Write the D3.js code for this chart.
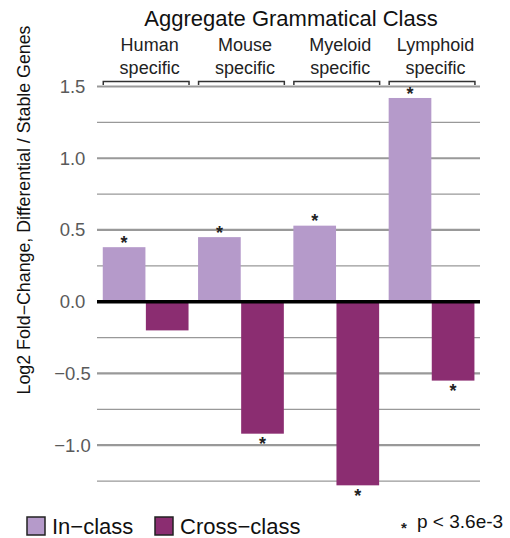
<!DOCTYPE html>
<html>
<head>
<meta charset="utf-8">
<script src="https://cdn.jsdelivr.net/npm/d3@7"></script>
<style>
  html, body { margin: 0; padding: 0; background: #fff; }
  svg { display: block; font-family: "Liberation Sans", Arial, Helvetica, sans-serif; }
</style>
</head>
<body>
<svg id="chart" width="510" height="538"></svg>
<script>
// Grammatical classes (two text lines each)
const categories = ["Human specific", "Mouse specific", "Myeloid specific", "Lymphoid specific"];
const categoryLines = [["Human", "specific"], ["Mouse", "specific"], ["Myeloid", "specific"], ["Lymphoid", "specific"]];

// Log2 fold-change of differential vs stable genes
const seriesNames = ["In\u2212class", "Cross\u2212class"];
const inClass = [0.38, 0.45, 0.53, 1.42];
const crossClass = [-0.20, -0.92, -1.28, -0.55];

// Significance (p < 3.6e-3) flags per bar
const inClassSig = [true, true, true, true];
const crossClassSig = [false, true, true, true];

const majorTicks = [-1.0, -0.5, 0.0, 0.5, 1.0, 1.5];
const minorTicks = [-1.25, -0.75, -0.25, 0.25, 0.75, 1.25];

const colors = ["#b59aca", "#8b2d71"];

const svg = d3.select("#chart");

const x0 = d3.scaleBand()
  .domain(categories)
  .range([98, 479.2])
  .paddingInner(0.1)
  .paddingOuter(0.05);

const x1 = d3.scaleBand()
  .domain([0, 1])
  .range([0, x0.bandwidth()])
  .paddingInner(0.01);

const y = d3.scaleLinear()
  .domain([-1.3, 1.5])
  .range([488.2, 86.5]);

const gridLeft = 97, gridRight = 480;

// Minor gridlines
svg.append("g").selectAll("line").data(minorTicks).join("line")
  .attr("x1", gridLeft).attr("x2", gridRight)
  .attr("y1", d => y(d)).attr("y2", d => y(d))
  .attr("stroke", "#999").attr("stroke-width", 1.3);

// Major gridlines
svg.append("g").selectAll("line").data(majorTicks.filter(d => d !== 0)).join("line")
  .attr("x1", gridLeft).attr("x2", gridRight)
  .attr("y1", d => y(d)).attr("y2", d => y(d))
  .attr("stroke", "#999").attr("stroke-width", 2.2);

// Y tick labels (centred in a column)
const fmt = d3.format(".1f");
svg.append("g").selectAll("text").data(majorTicks).join("text")
  .attr("x", 72.5)
  .attr("y", d => y(d))
  .attr("dy", "0.35em")
  .attr("text-anchor", "middle")
  .attr("font-size", 18.5)
  .attr("fill", "#5a5a5a")
  .text(d => fmt(d));

// Bars
const rows = categories.map((c, i) => ({
  cat: c,
  vals: [
    { s: 0, v: inClass[i], sig: inClassSig[i] },
    { s: 1, v: crossClass[i], sig: crossClassSig[i] }
  ]
}));

const groups = svg.append("g").selectAll("g").data(rows).join("g")
  .attr("transform", d => `translate(${x0(d.cat)},0)`);

groups.selectAll("rect").data(d => d.vals).join("rect")
  .attr("x", d => x1(d.s))
  .attr("width", x1.bandwidth())
  .attr("y", d => y(Math.max(0, d.v)))
  .attr("height", d => Math.abs(y(d.v) - y(0)))
  .attr("fill", d => colors[d.s]);

// Significance asterisks
const astSize = 18;
groups.selectAll("text.sig").data(d => d.vals.filter(v => v.sig)).join("text")
  .attr("class", "sig")
  .attr("x", d => x1(d.s) + x1.bandwidth() / 2)
  .attr("y", d => (d.v >= 0 ? y(d.v) - 8.5 : y(d.v) + 6.5) + 0.57 * astSize)
  .attr("text-anchor", "middle")
  .attr("font-size", astSize)
  .attr("font-weight", "bold")
  .attr("fill", "#222")
  .text("*");

// Zero line
svg.append("line")
  .attr("x1", gridLeft).attr("x2", gridRight)
  .attr("y1", y(0)).attr("y2", y(0))
  .attr("stroke", "#000").attr("stroke-width", 3.5);

// Title
svg.append("text")
  .attr("x", 291).attr("y", 26)
  .attr("text-anchor", "middle")
  .attr("font-size", 22)
  .attr("fill", "#111")
  .text("Aggregate Grammatical Class");

// Category headers with brackets
const heads = svg.append("g").selectAll("g").data(categories).join("g")
  .attr("transform", d => `translate(${x0(d)},0)`);

heads.append("path")
  .attr("d", `M0.5,85 V81.5 H${x0.bandwidth() + 0.5} V85`)
  .attr("fill", "none")
  .attr("stroke", "#333")
  .attr("stroke-width", 1.5);

heads.each(function (d, i) {
  const t = d3.select(this).append("text")
    .attr("text-anchor", "middle")
    .attr("font-size", 18)
    .attr("fill", "#222");
  categoryLines[i].forEach((line, k) => {
    t.append("tspan")
      .attr("x", x0.bandwidth() / 2 + 4)
      .attr("y", k === 0 ? 51 : 74)
      .text(line);
  });
});

// Y axis title
svg.append("text")
  .attr("transform", `translate(30,210) rotate(-90)`)
  .attr("text-anchor", "middle")
  .attr("font-size", 17.8)
  .attr("fill", "#111")
  .text("Log2 Fold\u2212Change, Differential / Stable Genes");

// Legend
const legendX = [27, 155];
const legend = svg.append("g").selectAll("g").data(seriesNames).join("g")
  .attr("transform", (d, i) => `translate(${legendX[i]},517)`);

legend.append("rect")
  .attr("width", 18).attr("height", 18)
  .attr("fill", (d, i) => colors[i])
  .attr("stroke", "#222")
  .attr("stroke-width", 1.5);

legend.append("text")
  .attr("x", 25).attr("y", 16.5)
  .attr("font-size", 22)
  .attr("fill", "#111")
  .text(d => d);

// Significance note
const note = svg.append("g").attr("transform", "translate(404,528)");
note.append("text")
  .attr("x", 0).attr("y", -4 + 0.57 * 15)
  .attr("text-anchor", "middle")
  .attr("font-size", 15)
  .attr("font-weight", "bold")
  .attr("fill", "#222")
  .text("*");
note.append("text")
  .attr("x", 13).attr("y", 0)
  .attr("font-size", 19)
  .attr("fill", "#111")
  .text("p < 3.6e-3");
</script>
</body>
</html>
